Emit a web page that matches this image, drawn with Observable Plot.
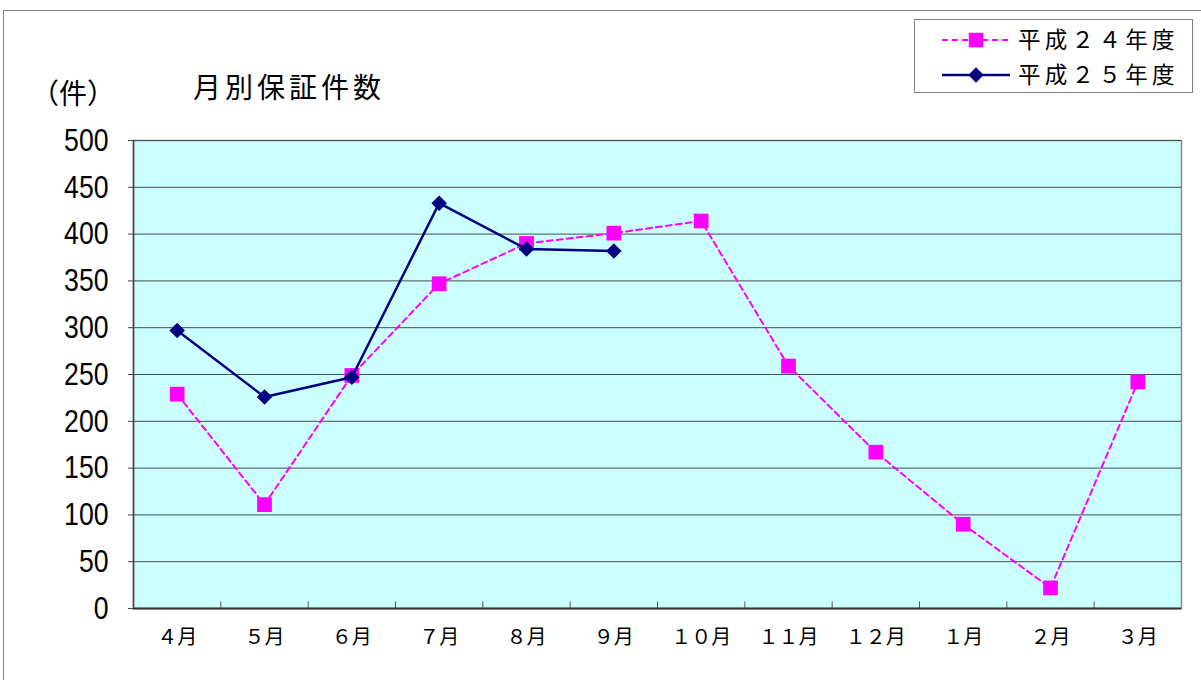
<!DOCTYPE html>
<html>
<head>
<meta charset="utf-8">
<script src="https://cdn.jsdelivr.net/npm/d3@7"></script>
<script src="https://cdn.jsdelivr.net/npm/@observablehq/plot@0.6"></script>
<style>
  html, body { margin: 0; padding: 0; background: #fff; overflow: hidden; }
  #wrap { position: relative; width: 1201px; height: 680px; }
  #frame { position: absolute; left: 3px; top: 10px; width: 1260px; height: 720px; border: 1.5px solid #7f7f7f; pointer-events: none; }
  #overlay { position: absolute; left: 0; top: 0; pointer-events: none; }
</style>
</head>
<body>
<div id="wrap">
  <div id="chart"></div>
  <div id="frame"></div>
  <svg id="overlay" width="1201" height="680"></svg>
</div>
<script>
const months = ["４月","５月","６月","７月","８月","９月","１０月","１１月","１２月","１月","２月","３月"];
const h24 = [229, 111, 249, 347, 390, 401, 414, 259, 167, 90, 22, 242];
const h25 = [297, 226, 247, 433, 384, 382];
const yTicks = [0, 50, 100, 150, 200, 250, 300, 350, 400, 450, 500];
const seriesNames = ["平成２４年度", "平成２５年度"];
const titleText = "月別保証件数";
const unitText = "（件）";

const d24 = h24.map((v, i) => ({i: i + 0.5, v}));
const d25 = h25.map((v, i) => ({i: i + 0.5, v}));
const labelPos = months.map((m, i) => i + 0.5);
const bounds = d3.range(1, months.length);

const chart = Plot.plot({
  width: 1201,
  height: 680,
  marginLeft: 133,
  marginRight: 20,
  marginTop: 140,
  marginBottom: 72,
  style: {background: "transparent"},
  x: {type: "linear", domain: [0, months.length]},
  y: {domain: [0, 500]},
  marks: [
    Plot.frame({fill: "#ccffff", stroke: "#8a8a8a", strokeWidth: 1.5}),
    Plot.gridY(yTicks, {stroke: "#4a4a4a", strokeOpacity: 1, strokeWidth: 1}),
    Plot.ruleX(bounds, {y1: 0, y2: 7, stroke: "#555", strokeWidth: 1}),
    Plot.ruleY([0], {stroke: "#333", strokeWidth: 2}),
    Plot.ruleX([0], {stroke: "#444", strokeWidth: 1.5}),
    Plot.axisY(yTicks, {
      tickSize: 5, tickPadding: 20, label: null, stroke: "#444",
      fontSize: 32, fontFamily: "'Liberation Sans', sans-serif", fill: "#000"
    }),
    Plot.axisX(labelPos, {
      tickSize: 0, tickPadding: 21, label: null,
      tickFormat: d => months[Math.floor(d)],
      fontSize: 20, fontFamily: "'Noto Sans CJK JP', sans-serif", fill: "#000"
    }),
    Plot.line(d24, {x: "i", y: "v", stroke: "#ff00ff", strokeWidth: 2, strokeDasharray: "6,4"}),
    Plot.dot(d24, {x: "i", y: "v", symbol: "square", r: 8.3, fill: "#ff00ff", stroke: "none"}),
    Plot.line(d25, {x: "i", y: "v", stroke: "#000080", strokeWidth: 2.5}),
    Plot.dot(d25, {x: "i", y: "v", symbol: "diamond2", r: 7, fill: "#000080", stroke: "none"})
  ]
});
document.getElementById("chart").appendChild(chart);

// narrow the y tick labels (condensed digits like the original)
d3.select(chart).selectAll('g[aria-label="y-axis tick label"] text').each(function() {
  const t = this.textContent;
  this.setAttribute("textLength", t.length * 14.8);
  this.setAttribute("lengthAdjust", "spacingAndGlyphs");
});

// Titles and legend
const ov = d3.select("#overlay");
const cjk = "'Noto Sans CJK JP', sans-serif";
ov.append("text").attr("x", 31).attr("y", 104).attr("font-family", cjk).attr("font-size", 28).text(unitText);
ov.append("text").attr("x", 193).attr("y", 98).attr("font-family", cjk).attr("font-size", 28).attr("letter-spacing", 4).text(titleText);

const lg = ov.append("g");
lg.append("rect").attr("x", 914.5).attr("y", 19.5).attr("width", 278).attr("height", 73)
  .attr("fill", "#fff").attr("stroke", "#808080").attr("stroke-width", 1);
const rows = [
  {name: seriesNames[0], y: 40, color: "#ff00ff", dash: "6,4", sym: d3.symbolSquare, w: 2},
  {name: seriesNames[1], y: 75, color: "#000080", dash: null, sym: d3.symbolDiamond2, w: 2.5}
];
rows.forEach(r => {
  lg.append("line").attr("x1", 942).attr("x2", 1010).attr("y1", r.y).attr("y2", r.y)
    .attr("stroke", r.color).attr("stroke-width", r.w).attr("stroke-dasharray", r.dash);
  lg.append("path").attr("transform", `translate(976,${r.y})`)
    .attr("d", d3.symbol(r.sym, r.sym === d3.symbolSquare ? 210 : 150)()).attr("fill", r.color);
  lg.append("text").attr("x", 1018).attr("y", r.y + 8).attr("font-family", cjk).attr("font-size", 22.5)
    .attr("letter-spacing", 4.3).text(r.name);
});
</script>
</body>
</html>
